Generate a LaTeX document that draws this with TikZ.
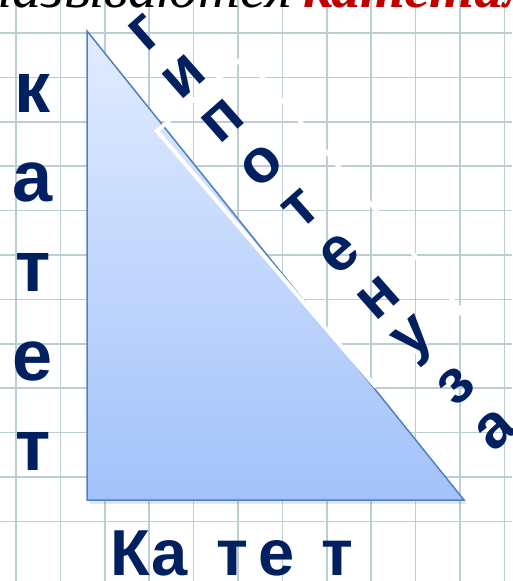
\documentclass[tikz,border=0pt]{standalone}
\usepackage{fontspec}
\setmainfont{Liberation Sans}
\newfontfamily\cursivefont{Liberation Serif}
\usetikzlibrary{shadows}
\definecolor{navy}{RGB}{0,32,96}
\definecolor{termred}{RGB}{192,0,0}
\definecolor{gridblue}{RGB}{188,206,212}
\definecolor{edgeblue}{RGB}{79,129,189}
\definecolor{triTop}{RGB}{226,236,255}
\definecolor{triBottom}{RGB}{162,194,250}

\begin{document}
\begin{tikzpicture}[x=1pt, y=-1pt,
    gridline/.style={draw=gridblue, line width=1.6pt},
    legletter/.style={text=navy, font=\fontsize{72}{72}\selectfont\bfseries, anchor=base, inner sep=0pt},
    baseletter/.style={text=navy, font=\fontsize{65}{65}\selectfont\bfseries, anchor=base, inner sep=0pt},
    hypletter/.style={text=navy, font=\fontsize{62}{62}\selectfont\bfseries, rotate=41.4, inner sep=0pt},
    frame/.style={draw=white, line width=4pt, line join=miter},
    leg/.style={draw=edgeblue, line width=1.5pt, top color=triTop, bottom color=triBottom},
    caption/.style={inner sep=0pt, font=\cursivefont\itshape\fontsize{58}{58}\selectfont}
]
\useasboundingbox (0,0) rectangle (512,581);
\clip (0,0) rectangle (512,581);

% grid paper
\foreach \k in {0,...,11} {
    \draw[gridline] (16+44.4*\k,0) -- (16+44.4*\k,581);
    \draw[gridline] (0,33+44.4*\k) -- (512,33+44.4*\k);
}

% cut-off line of text above
\node[caption, anchor=base east] (said) at (293,7) {называются};
\node[caption, anchor=base west, text=termred, font=\cursivefont\bfseries\itshape\fontsize{58}{58}\selectfont] (term) at (303,7) {катетами};

% triangle
\coordinate (apex) at (87,31);
\coordinate (corner) at (87,500);
\coordinate (foot) at (464,500);
\path[leg, drop shadow={opacity=0.2, shadow xshift=3pt, shadow yshift=-4pt}] (apex) -- (corner) -- (foot) -- cycle;

% frame along the hypotenuse
\draw[frame] (157,131) -- (244.4,56.2) -- (462,311) -- (374.8,385.6) -- cycle;

% labels
\foreach \ch [count=\i from 0] in {г,и,п,о,т,е,н,у,з,а}
    \node[hypletter] (hyp\i) at (145+38.9*\i, 33+44.1*\i) {\ch};

\foreach \ch [count=\i from 0] in {к,а,т,е,т}
    \node[legletter] (side\i) at (33, 112+89.5*\i) {\ch};

\foreach \ch/\x [count=\i from 0] in {К/130,а/170,т/232,е/277,т/337}
    \node[baseletter] (base\i) at (\x,575) {\ch};
\end{tikzpicture}
\end{document}
